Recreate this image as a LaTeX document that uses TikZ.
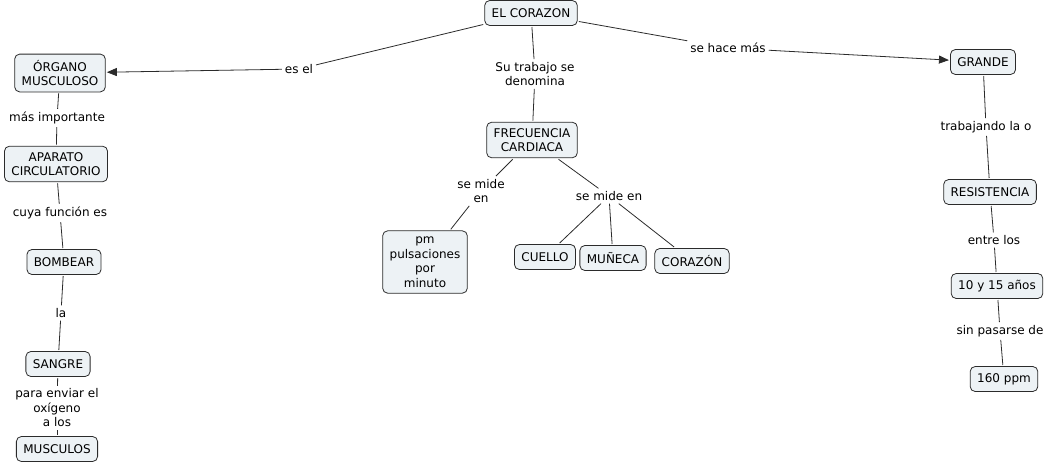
\documentclass[tikz,border=0pt]{standalone}
\usepackage{fontspec}
\setmainfont{DejaVu Sans}
\usetikzlibrary{arrows.meta}
\definecolor{cfill}{HTML}{EDF2F5}
\definecolor{cline}{HTML}{2B2B2B}

\begin{document}
\begin{tikzpicture}[x=1pt,y=-1pt,
  font=\fontsize{12}{14.5}\selectfont,
  concept/.style={draw=cline,fill=cfill,line width=0.8pt,rounded corners=5pt,
    align=center,inner xsep=7pt,inner ysep=6pt,minimum height=25pt,outer sep=1.5pt},
  phrase/.style={align=center,inner sep=2pt,outer sep=1pt},
  link/.style={draw=cline,line width=0.8pt},
  linkarrow/.style={link,-{Triangle[length=10pt,width=8pt]}}]
\useasboundingbox (0,0) rectangle (1047,464);
% concepts
\node[concept] (corazon) at (531,13) {EL CORAZON};
\node[concept] (organo) at (60,73) {ÓRGANO\\MUSCULOSO};
\node[concept] (aparato) at (56,164) {APARATO\\CIRCULATORIO};
\node[concept] (bombear) at (64,262) {BOMBEAR};
\node[concept] (sangre) at (58,364) {SANGRE};
\node[concept] (musculos) at (57,449) {MUSCULOS};
\node[concept] (frecuencia) at (532,140) {FRECUENCIA\\CARDIACA};
\node[concept] (pm) at (425,262) {pm\\pulsaciones\\por\\minuto};
\node[concept] (cuello) at (545,257) {CUELLO};
\node[concept] (muneca) at (613,258) {MUÑECA};
\node[concept] (corazonb) at (692,261) {CORAZÓN};
\node[concept] (grande) at (983,62) {GRANDE};
\node[concept] (resistencia) at (990,192) {RESISTENCIA};
\node[concept] (anos) at (997,286) {10 y 15 años};
\node[concept] (ppm) at (1004,379) {160 ppm};
% linking phrases
\node[phrase] (esel) at (299,69) {es el};
\node[phrase] (trabajo) at (535,74) {Su trabajo se\\denomina};
\node[phrase] (hacemas) at (728,48) {se hace más};
\node[phrase] (masimp) at (57,118) {más importante};
\node[phrase] (cuyafuncion) at (60,213) {cuya función es};
\node[phrase] (la) at (61,313) {la};
\node[phrase] (paraenviar) at (57,408) {para enviar el\\oxígeno\\a los};
\node[phrase] (semideA) at (481,191) {se mide\\en};
\node[phrase] (semideB) at (609,196) {se mide en};
\node[phrase] (trabajando) at (986,127) {trabajando la o};
\node[phrase] (entrelos) at (994,240) {entre los};
\node[phrase] (sinpasarse) at (1000,331) {sin pasarse de};
% connectors
\draw[link] (corazon) -- (esel);
\draw[linkarrow] (esel) -- (organo);
\draw[link] (corazon) -- (trabajo);
\draw[link] (trabajo) -- (frecuencia);
\draw[link] (corazon) -- (hacemas);
\draw[linkarrow] (hacemas) -- (grande);
\draw[link] (organo) -- (masimp);
\draw[link] (masimp) -- (aparato);
\draw[link] (aparato) -- (cuyafuncion);
\draw[link] (cuyafuncion) -- (bombear);
\draw[link] (bombear) -- (la);
\draw[link] (la) -- (sangre);
\draw[link] (sangre) -- (paraenviar);
\draw[link] (paraenviar) -- (musculos);
\draw[link] (frecuencia) -- (semideA);
\draw[link] (semideA) -- (pm);
\draw[link] (frecuencia) -- (semideB);
\draw[link] (semideB) -- (cuello);
\draw[link] (semideB) -- (muneca);
\draw[link] (semideB) -- (corazonb);
\draw[link] (grande) -- (trabajando);
\draw[link] (trabajando) -- (resistencia);
\draw[link] (resistencia) -- (entrelos);
\draw[link] (entrelos) -- (anos);
\draw[link] (anos) -- (sinpasarse);
\draw[link] (sinpasarse) -- (ppm);
\end{tikzpicture}
\end{document}
